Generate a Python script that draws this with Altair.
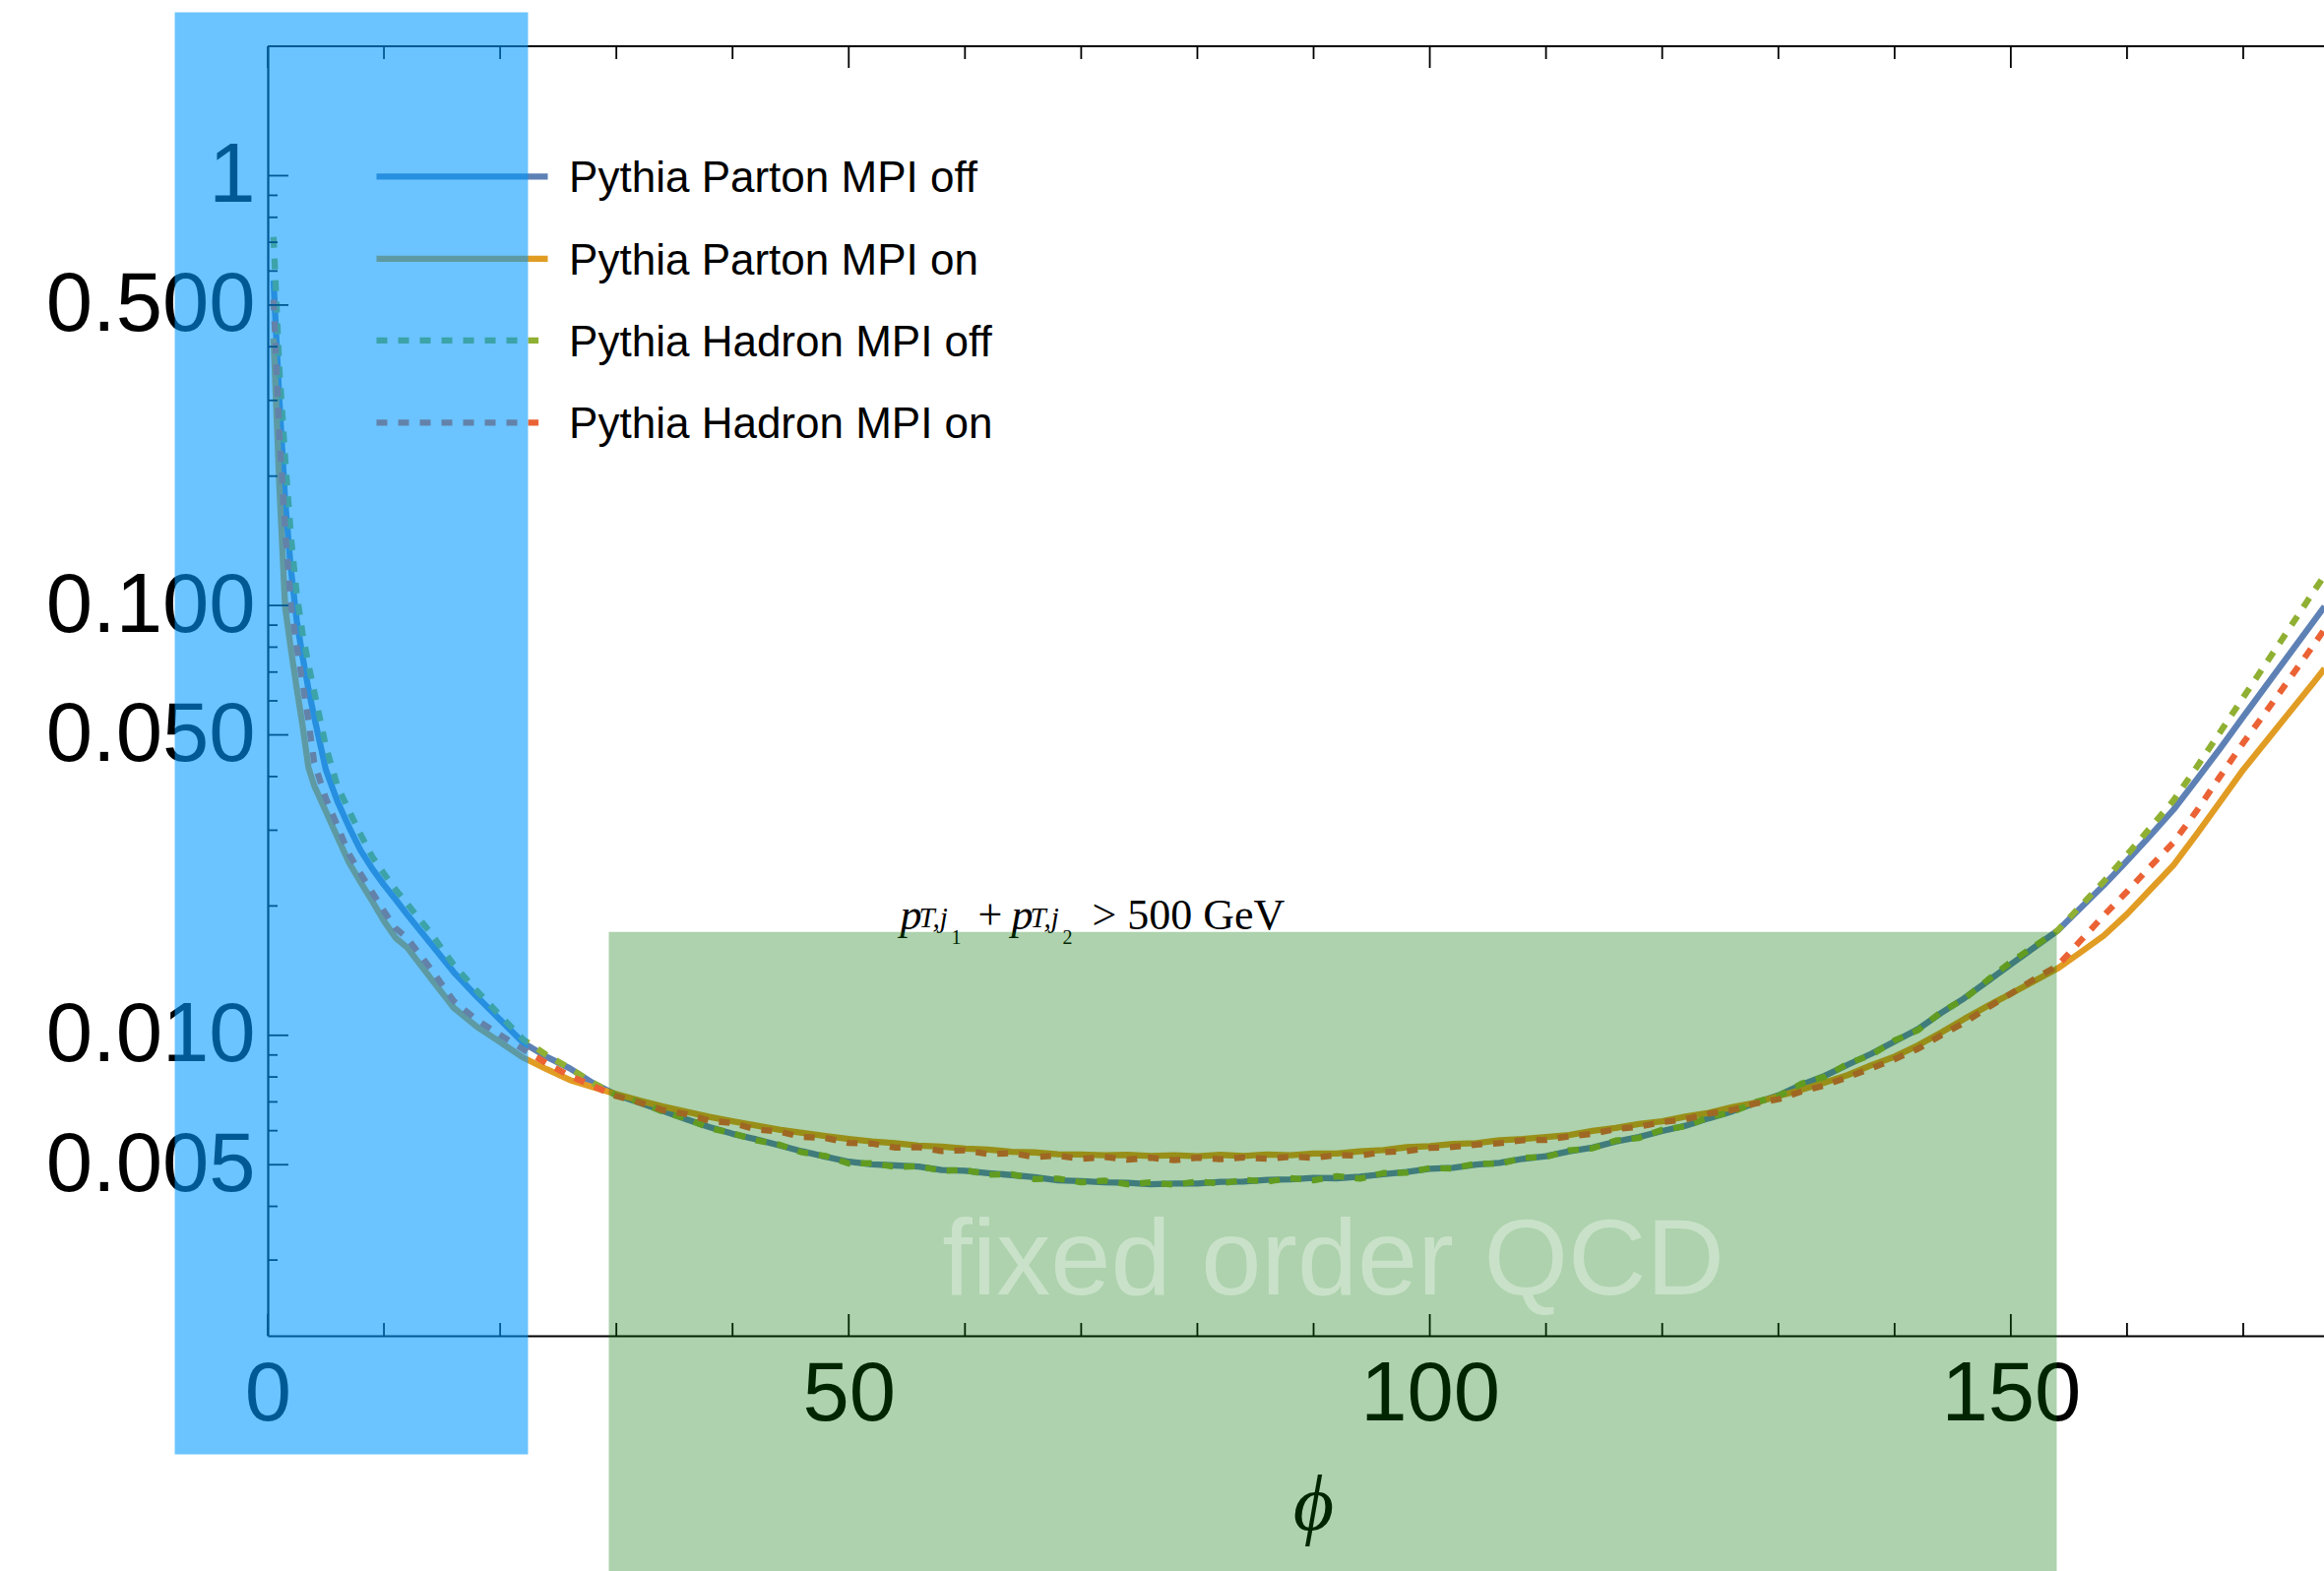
import altair as alt
import pandas as pd

# ---------------------------------------------------------------------------
# Data: normalised phi distributions (log scale), binned in degrees
# ---------------------------------------------------------------------------
PHI = [0.5, 1, 1.5, 2, 2.5, 3, 3.5, 4, 5, 6, 7, 8, 9, 10, 11, 12,
       14, 16, 18, 20, 22, 24, 26, 28, 30, 32, 34, 36, 38, 40,
       42, 44, 46, 48, 50, 52, 54, 56, 58, 60, 62, 64, 66, 68, 70,
       72, 74, 76, 78, 80, 82, 84, 86, 88, 90, 92, 94, 96, 98, 100,
       102, 104, 106, 108, 110, 112, 114, 116, 118, 120, 122, 124, 126, 128, 130,
       132, 134, 136, 138, 140, 142, 144, 146, 148, 150, 152, 154, 156, 158, 160,
       162, 164, 166, 168, 170, 172, 174, 176, 177]

PARTON_MPI_OFF = [0.57, 0.30, 0.175, 0.121, 0.092, 0.076, 0.064, 0.055, 0.0415, 0.035, 0.0305, 0.0269, 0.0244, 0.0224, 0.0207, 0.0191,
                  0.01637, 0.01403, 0.0123, 0.01087, 0.0096, 0.00891, 0.00838, 0.00774, 0.00727, 0.00697, 0.00667, 0.00638, 0.00612, 0.0059,
                  0.00573, 0.00555, 0.00537, 0.00522, 0.00508, 0.00501, 0.00498, 0.00495, 0.00486, 0.00484, 0.00478, 0.00473, 0.00468, 0.00460, 0.00458,
                  0.00455, 0.00454, 0.00450, 0.00452, 0.00452, 0.00456, 0.00457, 0.00461, 0.00462, 0.00466, 0.00465, 0.00469, 0.00475, 0.00481, 0.00489,
                  0.00492, 0.00500, 0.00505, 0.00516, 0.00523, 0.00537, 0.00548, 0.00566, 0.00580, 0.00599, 0.00616, 0.00641, 0.00665, 0.00696, 0.00725,
                  0.00768, 0.00805, 0.00855, 0.00906, 0.00968, 0.01033, 0.01127, 0.01220, 0.01336, 0.01462, 0.0160, 0.0175, 0.01977, 0.02234, 0.02547,
                  0.02917, 0.0335, 0.03936, 0.04645, 0.0551, 0.0652, 0.0772, 0.0914, 0.0995]

PARTON_MPI_ON = [0.418, 0.19, 0.099, 0.079, 0.064, 0.0525, 0.042, 0.0381, 0.0332, 0.0289, 0.0252, 0.0227, 0.0205, 0.01845, 0.01686, 0.016,
                 0.01361, 0.01159, 0.01047, 0.00964, 0.00887, 0.00834, 0.00787, 0.00757, 0.0073, 0.00705, 0.00683, 0.00664, 0.00646, 0.00631,
                 0.00617, 0.00603, 0.00593, 0.00583, 0.00574, 0.00566, 0.00561, 0.00554, 0.00551, 0.00545, 0.00542, 0.00536, 0.00534, 0.00529, 0.00528,
                 0.00526, 0.00527, 0.00524, 0.00526, 0.00523, 0.00527, 0.00524, 0.00528, 0.00526, 0.00531, 0.00531, 0.00537, 0.00541, 0.00549, 0.00552,
                 0.00559, 0.00561, 0.00570, 0.00574, 0.00580, 0.00586, 0.00599, 0.00609, 0.00622, 0.00631, 0.00647, 0.00660, 0.00680, 0.00697, 0.00722,
                 0.00747, 0.00777, 0.00809, 0.00852, 0.00892, 0.00947, 0.01015, 0.01092, 0.0117, 0.0125, 0.01337, 0.01429, 0.0156, 0.01706, 0.01914,
                 0.02183, 0.02489, 0.02938, 0.0349, 0.0415, 0.0484, 0.0565, 0.0659, 0.0713]

HADRON_MPI_OFF = [0.72, 0.355, 0.22, 0.144, 0.106, 0.086, 0.073, 0.063, 0.047, 0.038, 0.0333, 0.0293, 0.026, 0.02377, 0.02183, 0.02023,
                  0.01733, 0.01459, 0.01268, 0.01112, 0.00977, 0.009, 0.00838, 0.00774, 0.00725, 0.00700, 0.00664, 0.00641, 0.00608, 0.00592,
                  0.00570, 0.00557, 0.00534, 0.00524, 0.00503, 0.00504, 0.00494, 0.00496, 0.00484, 0.00486, 0.00474, 0.00475, 0.00463, 0.00464, 0.00455,
                  0.00459, 0.00450, 0.00455, 0.00449, 0.00457, 0.00452, 0.00461, 0.00457, 0.00465, 0.00460, 0.00470, 0.00464, 0.00478, 0.00479, 0.00491,
                  0.00490, 0.00503, 0.00502, 0.00519, 0.00521, 0.00540, 0.00546, 0.00569, 0.00577, 0.00603, 0.00614, 0.00645, 0.00662, 0.00699, 0.00722,
                  0.00772, 0.00801, 0.00860, 0.00900, 0.00973, 0.01027, 0.01133, 0.01215, 0.01345, 0.0148, 0.0161, 0.0175, 0.0200, 0.0228, 0.0263,
                  0.0304, 0.0352, 0.0421, 0.0507, 0.0611, 0.0736, 0.0887, 0.1072, 0.1175]

HADRON_MPI_ON = [0.515, 0.25, 0.15, 0.1, 0.08, 0.066, 0.054, 0.0431, 0.0356, 0.0307, 0.0264, 0.02375, 0.02149, 0.01945, 0.01775, 0.01683,
                 0.01432, 0.01202, 0.01086, 0.01002, 0.00927, 0.00861, 0.00805, 0.00762, 0.00722, 0.00698, 0.00670, 0.00656, 0.00633, 0.00625,
                 0.00604, 0.00597, 0.00580, 0.00577, 0.00562, 0.00560, 0.00548, 0.00549, 0.00538, 0.00540, 0.00529, 0.00532, 0.00521, 0.00525, 0.00516,
                 0.00521, 0.00514, 0.00519, 0.00512, 0.00519, 0.00515, 0.00520, 0.00516, 0.00522, 0.00519, 0.00526, 0.00525, 0.00535, 0.00538, 0.00547,
                 0.00550, 0.00557, 0.00561, 0.00570, 0.00571, 0.00582, 0.00590, 0.00605, 0.00613, 0.00628, 0.00638, 0.00657, 0.00670, 0.00694, 0.00710,
                 0.00740, 0.00765, 0.00800, 0.00838, 0.00880, 0.00930, 0.01000, 0.0107, 0.0116, 0.0125, 0.0135, 0.0145, 0.0166, 0.019, 0.0216,
                 0.0247, 0.0281, 0.0333, 0.04, 0.0479, 0.0568, 0.0676, 0.0805, 0.0881]

SERIES = ["Pythia Parton MPI off", "Pythia Parton MPI on",
          "Pythia Hadron MPI off", "Pythia Hadron MPI on"]
SERIES_VALUES = [PARTON_MPI_OFF, PARTON_MPI_ON, HADRON_MPI_OFF, HADRON_MPI_ON]
COLORS = ["#5E81B5", "#E19C24", "#8FB032", "#EB6235"]
DOTTED = [False, False, True, True]

# legend rows, placed in the plot's own (phi, value) coordinates
LEGEND_ROW_Y = [0.995, 0.641, 0.4137, 0.2663]
LEGEND_X0 = 9.36
LEGEND_X1_SOLID = 24.1
LEGEND_X1_DOTTED = 23.3
LEGEND_TEXT_X = 25.93

# tick positions
X_MAJOR = [0, 50, 100, 150]
X_MINOR = [10, 20, 30, 40, 60, 70, 80, 90, 110, 120, 130, 140, 160, 170]
Y_MAJOR = [1, 0.5, 0.1, 0.05, 0.01, 0.005]
Y_MINOR = [0.9, 0.8, 0.7, 0.6, 0.4, 0.3, 0.2,
           0.09, 0.08, 0.07, 0.06, 0.04, 0.03, 0.02,
           0.009, 0.008, 0.007, 0.006, 0.004, 0.003]

# shaded regions (phi range, value range)
LOW_PHI_BAND = {"x": [-8.0], "x2": [22.4], "y": [0.00106], "y2": [2.4]}
FIXED_ORDER_BAND = {"x": [29.35], "x2": [153.95], "y": [0.0005], "y2": [0.01739]}
FIXED_ORDER_LABEL = {"x": [91.7], "y": [0.0025], "text": ["fixed order QCD"]}
PHI_TITLE = {"x": [90.0], "y": [0.000804], "text": ["\u03d5"]}

# cut annotation: pieces of  p_{T,j1} + p_{T,j2} > 500 GeV
CUT_ANCHOR = {"x": [54.42], "y": [0.01765]}
CUT_PIECES = [  # text, dx, dy, size, style
    ("p", 0, 0, 44, "italic"),
    ("T,j", 19, -2, 29, "italic"),
    ("1", 52, 15, 20, "normal"),
    ("+", 79, 0, 44, "normal"),
    ("p", 113, 0, 44, "italic"),
    ("T,j", 132, -2, 29, "italic"),
    ("2", 165, 15, 20, "normal"),
    ("> 500 GeV", 195, 0, 44, "normal"),
]

# ---------------------------------------------------------------------------
# Layout
# ---------------------------------------------------------------------------
W, H = 2089, 1310
SANS = "Liberation Sans"
SERIF = "Liberation Serif"

xs = alt.Scale(domain=[0, 176.95], nice=False, zero=False)
ys = alt.Scale(type="log", domain=[0.002, 2], nice=False)

x_axis = alt.Axis(values=X_MAJOR, format="d", title=None, grid=False,
                  ticks=False, tickSize=0, labelFont=SANS, labelFontSize=85,
                  labelColor="black", labelPadding=18, labelFlush=False,
                  labelOverlap=False, labelLimit=600, domainColor="black",
                  domainWidth=2.2, zindex=0)
y_axis = alt.Axis(values=Y_MAJOR, title=None, grid=False, ticks=False,
                  tickSize=0, labelFont=SANS, labelFontSize=85,
                  labelColor="black", labelPadding=13, labelFlush=False,
                  labelOverlap=False, labelLimit=600, domainColor="black",
                  domainWidth=2.2,
                  labelExpr="datum.value >= 1 ? '1' : format(datum.value, '.3f')",
                  zindex=0)


def X(field, axis=None):
    if axis is None:
        return alt.X(field, type="quantitative", scale=xs)
    return alt.X(field, type="quantitative", scale=xs, axis=axis)


def Y(field, axis=None):
    if axis is None:
        return alt.Y(field, type="quantitative", scale=ys)
    return alt.Y(field, type="quantitative", scale=ys, axis=axis)


layers = []

# distributions (the first one carries the axis definitions)
for i, (name, vals, color, dotted) in enumerate(zip(SERIES, SERIES_VALUES, COLORS, DOTTED)):
    df = pd.DataFrame({"phi": PHI, "value": vals})
    style = dict(color=color, strokeWidth=6.3, clip=True, strokeJoin="round", strokeCap="butt")
    if dotted:
        style["strokeDash"] = [11, 11]
    layers.append(
        alt.Chart(df).mark_line(**style)
        .encode(x=X("phi", x_axis if i == 0 else None),
                y=Y("value", y_axis if i == 0 else None))
    )

# top frame line
layers.append(
    alt.Chart(pd.DataFrame({"k": [0]})).mark_rule(color="black", strokeWidth=2.2)
    .encode(x=alt.value(0), x2=alt.value(W), y=alt.value(0))
)

# inward ticks on bottom / top / left
for ticks, length in ((X_MAJOR, 22), (X_MINOR, 13)):
    df = pd.DataFrame({"phi": ticks})
    layers.append(
        alt.Chart(df).mark_rule(color="black", strokeWidth=1.8)
        .encode(x=X("phi"), y=alt.value(H), y2=alt.value(H - length))
    )
    layers.append(
        alt.Chart(df).mark_rule(color="black", strokeWidth=1.8)
        .encode(x=X("phi"), y=alt.value(0), y2=alt.value(length))
    )
for ticks, length in ((Y_MAJOR, 21), (Y_MINOR, 10)):
    df = pd.DataFrame({"v": ticks})
    layers.append(
        alt.Chart(df).mark_rule(color="black", strokeWidth=1.8)
        .encode(y=Y("v"), x=alt.value(0), x2=alt.value(length))
    )

# legend
for name, color, dotted, ry in zip(SERIES, COLORS, DOTTED, LEGEND_ROW_Y):
    df = pd.DataFrame({"x0": [LEGEND_X0],
                       "x1": [LEGEND_X1_DOTTED if dotted else LEGEND_X1_SOLID],
                       "xt": [LEGEND_TEXT_X], "y": [ry], "label": [name]})
    style = dict(color=color, strokeWidth=6.3, strokeCap="butt")
    if dotted:
        style["strokeDash"] = [11, 11]
    layers.append(alt.Chart(df).mark_rule(**style).encode(x=X("x0"), x2="x1:Q", y=Y("y")))
    layers.append(
        alt.Chart(df).mark_text(align="left", baseline="middle", dy=3, font=SANS,
                                fontSize=44, color="black")
        .encode(x=X("xt"), y=Y("y"), text="label:N")
    )

# cut annotation
anchor = pd.DataFrame(CUT_ANCHOR)
for text, dx, dy, size, style in CUT_PIECES:
    layers.append(
        alt.Chart(anchor).mark_text(text=text, align="left", baseline="alphabetic",
                                    dx=dx, dy=dy, font=SERIF, fontSize=size,
                                    fontStyle=style, color="black")
        .encode(x=X("x"), y=Y("y"))
    )

# x axis title
layers.append(
    alt.Chart(pd.DataFrame(PHI_TITLE)).mark_text(align="center", baseline="middle",
                                                 font=SERIF, fontSize=80,
                                                 fontStyle="italic", color="black")
    .encode(x=X("x"), y=Y("y"), text="text:N")
)

# shaded regions
layers.append(
    alt.Chart(pd.DataFrame(LOW_PHI_BAND)).mark_rect(color="#0099FF", opacity=0.58, clip=False)
    .encode(x=X("x"), x2="x2:Q", y=Y("y"), y2="y2:Q")
)
layers.append(
    alt.Chart(pd.DataFrame(FIXED_ORDER_BAND)).mark_rect(color="#007300", opacity=0.32, clip=False)
    .encode(x=X("x"), x2="x2:Q", y=Y("y"), y2="y2:Q")
)
layers.append(
    alt.Chart(pd.DataFrame(FIXED_ORDER_LABEL)).mark_text(align="center", baseline="alphabetic",
                                                        font=SANS, fontSize=110,
                                                        color="white", opacity=0.35)
    .encode(x=X("x"), y=Y("y"), text="text:N")
)

chart = (
    alt.layer(*layers)
    .properties(width=W, height=H,
                padding={"left": 272, "top": 47, "right": 0, "bottom": 239},
                autosize=alt.AutoSizeParams(type="none"),
                background="white")
    .configure_view(stroke="transparent")
)

chart.save("out.html", embed_options={"renderer": "svg", "actions": False})
